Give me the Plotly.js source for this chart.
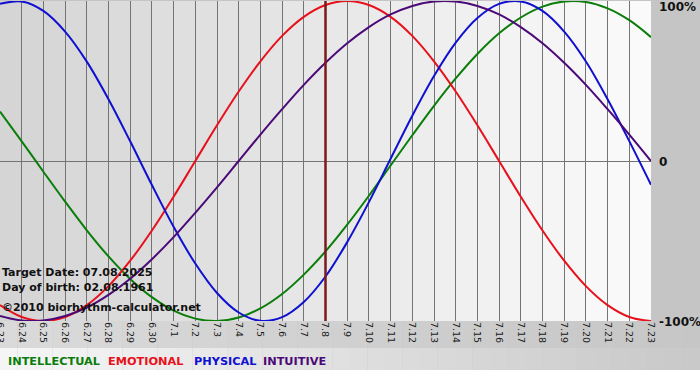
<!DOCTYPE html>
<html>
<head>
<meta charset="utf-8">
<script src="https://cdn.plot.ly/plotly-3.0.1.min.js"></script>
<style>html,body{margin:0;padding:0;background:#fff;}#chart{width:700px;height:380px;}</style>
</head>
<body>
<div id="chart"></div>
<script>
// ---- data ----
const days = ['6.23','6.24','6.25','6.26','6.27','6.28','6.29','6.30',
  '7.1','7.2','7.3','7.4','7.5','7.6','7.7','7.8','7.9','7.10','7.11','7.12',
  '7.13','7.14','7.15','7.16','7.17','7.18','7.19','7.20','7.21','7.22','7.23'];

const intellectual = [0.309,0.123,-0.067,-0.254,-0.433,-0.596,-0.737,-0.851,-0.935,-0.985,
  -1.000,-0.978,-0.921,-0.831,-0.710,-0.565,-0.398,-0.217,-0.028,0.161,
  0.345,0.516,0.669,0.798,0.897,0.965,0.997,0.994,0.954,0.880,0.774];

const emotional = [-0.901,-0.975,-1.000,-0.975,-0.901,-0.782,-0.623,-0.434,-0.223,0.000,
  0.223,0.434,0.623,0.782,0.901,0.975,1.000,0.975,0.901,0.782,
  0.623,0.434,0.223,0.000,-0.223,-0.434,-0.623,-0.782,-0.901,-0.975,-1.000];

const physical = [0.982,0.997,0.938,0.809,0.621,0.386,0.123,-0.150,-0.411,-0.641,
  -0.825,-0.947,-0.999,-0.976,-0.881,-0.722,-0.507,-0.257,0.014,0.283,
  0.531,0.740,0.894,0.982,0.997,0.938,0.809,0.622,0.386,0.124,-0.149];

const intuitive = [-0.969,-0.997,-0.997,-0.969,-0.916,-0.837,-0.736,-0.614,-0.476,-0.324,
  -0.165,0.000,0.165,0.324,0.476,0.614,0.736,0.837,0.916,0.969,
  0.997,0.997,0.969,0.916,0.837,0.736,0.614,0.476,0.324,0.165,0.000];

const seriesNames = ['INTELLECTUAL','EMOTIONAL','PHYSICAL','INTUITIVE'];
const seriesColors = ['#0a7d0a','#e8101a','#1010d0','#4b0a78'];
const targetDay = '7.8';
const yLabels = ['100%','0','-100%'];
const yLabelVals = [1, 0, -1];
const infoLines = ['Target Date: 07.08.2025','Day of birth: 02.08.1961','\u00a92010 biorhythm-calculator.net'];

// ---- geometry helpers (plot area is 651 x 320 px, top at y=1) ----
const PW = 651, PH = 320, PT = 1;
const px = p => p / PW;
const py = p => (PT + PH - p) / PH;
const grey = v => { const c = Math.round(v); return 'rgb(' + c + ',' + c + ',' + c + ')'; };

const allSeries = [intellectual, emotional, physical, intuitive];
const traces = allSeries.map((vals, k) => ({
  type: 'scatter', mode: 'lines', x: days, y: vals, name: seriesNames[k],
  line: {color: seriesColors[k], width: 2, shape: 'spline', smoothing: 1},
  hoverinfo: 'skip', cliponaxis: true
}));

const shapes = [];
// plot-area background gradient (bands between day lines)
for (let i = 0; i < days.length - 1; i++) {
  const t = (i + 0.5) / (days.length - 1);
  shapes.push({type: 'rect', xref: 'x', yref: 'paper', x0: i, x1: i + 1, y0: 0, y1: 1,
    fillcolor: grey(212 + t * 39), line: {width: 0}, layer: 'below'});
}
// bottom strips gradients (paper)
const NB = 40;
for (let k = 0; k < NB; k++) {
  const t = (k + 0.5) / NB;
  const x0 = px(k * 700 / NB), x1 = px((k + 1) * 700 / NB);
  shapes.push({type: 'rect', xref: 'paper', yref: 'paper', x0: x0, x1: x1, y0: py(348), y1: py(321),
    fillcolor: grey(218 - t * 20), line: {width: 0}, layer: 'below'});
  shapes.push({type: 'rect', xref: 'paper', yref: 'paper', x0: x0, x1: x1, y0: py(370), y1: py(348),
    fillcolor: grey(246 - t * 46), line: {width: 0}, layer: 'below'});
}
shapes.push({type: 'rect', xref: 'paper', yref: 'paper', x0: 0, x1: px(700), y0: py(381), y1: py(370),
  fillcolor: '#ffffff', line: {width: 0}, layer: 'below'});
// target day line
shapes.push({type: 'line', xref: 'x', yref: 'paper', x0: days.indexOf(targetDay), x1: days.indexOf(targetDay),
  y0: 0, y1: 1, line: {color: '#7a1a1a', width: 2.5}, layer: 'above'});

const annotations = [];
const yLabelPix = [7.5, 162, 322];
yLabels.forEach((t, i) => annotations.push({xref: 'paper', yref: 'paper', x: px(657), y: py(yLabelPix[i]),
  xanchor: 'left', yanchor: 'middle', showarrow: false, text: t,
  font: {family: 'DejaVu Sans', size: 12, weight: 'bold', color: '#111'}}));
const infoPix = [272, 287, 307];
infoLines.forEach((t, i) => annotations.push({xref: 'paper', yref: 'paper', x: px(0), y: py(infoPix[i]),
  xanchor: 'left', yanchor: 'middle', showarrow: false, text: t,
  font: {family: 'DejaVu Sans', size: 11, weight: 'bold', color: '#111'}}));
const legendX = [6, 106, 192, 261];
seriesNames.forEach((t, i) => annotations.push({xref: 'paper', yref: 'paper', x: px(legendX[i]), y: py(361.5),
  xanchor: 'left', yanchor: 'middle', showarrow: false, text: t,
  font: {family: 'DejaVu Sans', size: 11.3, weight: 'bold', color: seriesColors[i]}}));

const layout = {
  width: 700, height: 380,
  margin: {l: 0, r: 700 - PW, t: PT, b: 380 - PT - PH, pad: 0},
  paper_bgcolor: '#c5c5c5', plot_bgcolor: '#e6e6e6',
  showlegend: false,
  xaxis: {type: 'category', range: [0, days.length - 1], tickangle: 90,
    showgrid: true, gridcolor: '#747474', gridwidth: 1, zeroline: false,
    ticks: '', showline: false,
    tickfont: {family: 'DejaVu Sans', size: 9.5, color: '#1a1a1a'}, fixedrange: true},
  yaxis: {range: [-1, 1], side: 'right', tickvals: yLabelVals, showticklabels: false,
    showgrid: true, gridcolor: '#747474', gridwidth: 1, zeroline: false, ticks: '', fixedrange: true},
  shapes: shapes, annotations: annotations, hovermode: false
};

Plotly.newPlot('chart', traces, layout, {staticPlot: true, displayModeBar: false});
</script>
</body>
</html>
